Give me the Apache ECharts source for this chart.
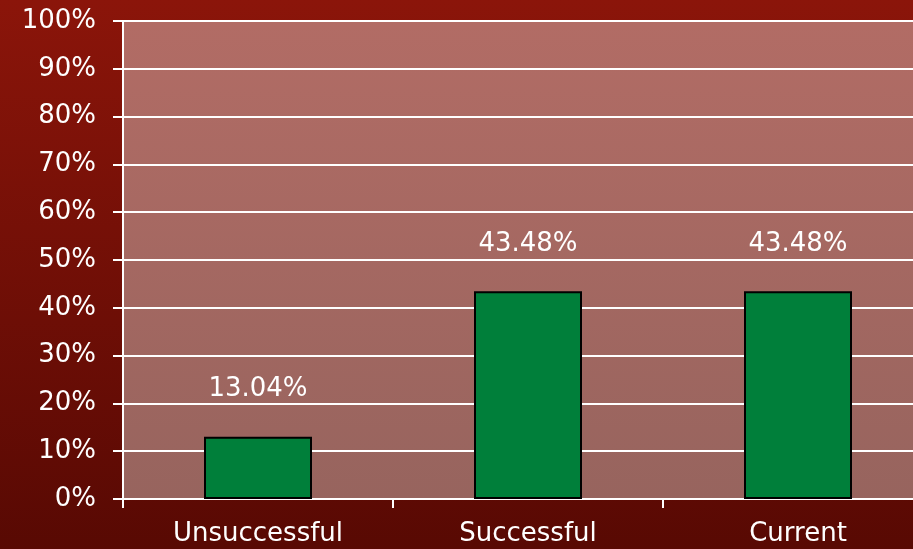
<!DOCTYPE html>
<html>
<head>
<meta charset="utf-8">
<script src="https://cdn.jsdelivr.net/npm/echarts@6/dist/echarts.min.js"></script>
<style>
  html, body { margin: 0; padding: 0; overflow: hidden; }
  #chart { width: 933px; height: 549px; }
</style>
</head>
<body>
<div id="chart"></div>
<script>
const categories = ['Unsuccessful', 'Successful', 'Current'];
const shares = [13.04, 43.48, 43.48];

// the plot runs a little past the right edge of the picture, so the canvas is wider than the window
const myChart = echarts.init(document.getElementById('chart'));

const white = '#ffffff';
const font = 'DejaVu Sans, Verdana, sans-serif';

myChart.setOption({
  animation: false,
  backgroundColor: {
    type: 'linear', x: 0, y: 0, x2: 0, y2: 1,
    colorStops: [
      { offset: 0, color: '#8b150a' },
      { offset: 1, color: '#580903' }
    ]
  },
  grid: {
    left: 123,
    right: 0,
    top: 21,
    bottom: 50,
    show: true,
    borderWidth: 0,
    backgroundColor: {
      type: 'linear', x: 0, y: 0, x2: 0, y2: 1,
      colorStops: [
        { offset: 0, color: '#b26c65' },
        { offset: 1, color: '#97645e' }
      ]
    }
  },
  xAxis: {
    type: 'category',
    data: categories,
    axisLine: { lineStyle: { color: white, width: 2 } },
    axisTick: { show: true, length: 9, lineStyle: { color: white, width: 2 } },
    axisLabel: { color: white, fontFamily: font, fontSize: 26, margin: 22 }
  },
  yAxis: {
    type: 'value',
    min: 0,
    max: 100,
    interval: 10,
    axisLine: { show: true, lineStyle: { color: white, width: 2 } },
    axisTick: { show: true, length: 10, lineStyle: { color: white, width: 2 } },
    splitLine: { lineStyle: { color: white, width: 2 } },
    axisLabel: {
      color: white, fontFamily: font, fontSize: 26, margin: 27,
      formatter: '{value}%'
    }
  },
  series: [{
    type: 'bar',
    data: shares,
    barWidth: '40%',
    itemStyle: { color: '#007f3a', borderColor: '#000000', borderWidth: 2 },
    label: {
      show: true,
      position: 'top',
      distance: 34,
      color: white,
      fontFamily: font,
      fontSize: 26,
      formatter: (p) => p.value.toFixed(2) + '%'
    }
  }]
});
</script>
</body>
</html>
